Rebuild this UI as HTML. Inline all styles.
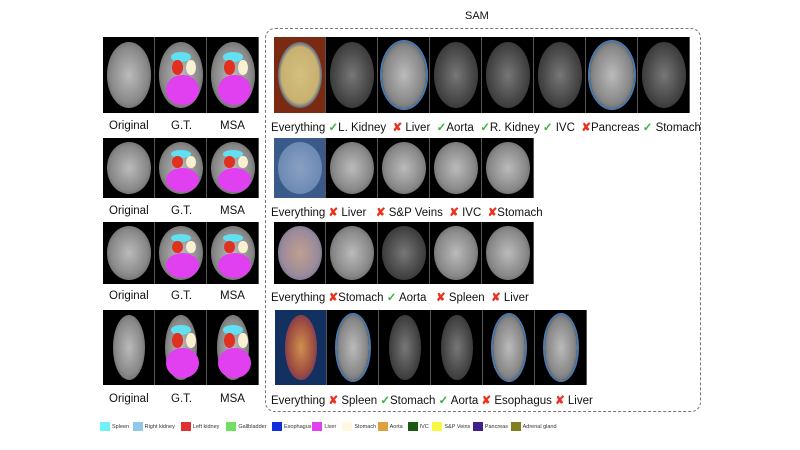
<!DOCTYPE html>
<html><head><meta charset="utf-8">
<style>
body{margin:0;width:800px;height:450px;background:#fff;position:relative;overflow:hidden;font-family:"Liberation Sans",sans-serif;}
.t{position:absolute;background:#000;overflow:hidden;border-right:1px solid #555;box-sizing:border-box}
.e{position:absolute;border-radius:50%}
.lb{position:absolute;font-size:11.5px;color:#111;white-space:nowrap}
.ok{color:#3cb043;font-weight:bold}
.no{color:#e8321e;font-weight:bold}
.lg{position:absolute;top:422px;font-size:5.5px;color:#333;display:flex;align-items:center;white-space:nowrap}
.lg i{display:inline-block;width:10px;height:9px;margin-right:2px}
</style></head><body>
<div id="box" style="position:absolute;left:265px;top:28px;width:436px;height:384px;border:1.5px dashed #777;border-radius:10px;box-sizing:border-box"></div>
<div class="lb" style="left:465px;top:10px;font-size:11px">SAM</div>
<div id="root"></div>
<script>
const root=document.getElementById('root');
function tile(x,y,w,h,kind,shape){
  const d=document.createElement('div');d.className='t';
  
  
  d.style.cssText+=`left:${x}px;top:${y}px;width:${w}px;height:${h}px`;
  const bg=kind==='every1'?'#7a2a10':kind==='every2'?'#3a5a8a':kind==='every4'?'#123060':'#000';
  d.style.background=bg;
  const e=document.createElement('div');e.className='e';
  const ew=shape==='side'?w*0.62:w*0.85, eh=h*0.86;
  e.style.cssText=`left:${(w-ew)/2}px;top:${(h-eh)/2}px;width:${ew}px;height:${eh}px;background:radial-gradient(#bbb,#888 60%,#444);`;
  if(kind==='dim')e.style.background='radial-gradient(#777,#444 60%,#222)';
  if(kind==='every1')e.style.background='radial-gradient(#d4c080,#c8b070 60%,#2a4a90 75%)';
  if(kind==='every2')e.style.background='radial-gradient(#8aa0c0,#6080b0)';
  if(kind==='every3')e.style.background='radial-gradient(#c0a090,#9a8a9a 60%,#3a5a8a)';
  if(kind==='every4')e.style.background='radial-gradient(#d09050,#a05040 55%,#502070)';
  if(kind==='outline')e.style.boxShadow='0 0 0 2px #4a7ab0';
  d.appendChild(e);
  if(kind==='gt'){
    const add=(l,t,ww,hh,c)=>{const b=document.createElement('div');b.className='e';b.style.cssText=`left:${l*w}px;top:${t*h}px;width:${ww*w}px;height:${hh*h}px;background:${c}`;d.appendChild(b);};
    add(.22,.5,.62,.4,'#e040f0');add(.3,.2,.4,.13,'#60e0f0');add(.33,.3,.2,.2,'#e03020');add(.6,.3,.18,.2,'#f8f0d0');
  }
  root.appendChild(d);
}
function label(x,y,html,name){
  const l=document.createElement('div');l.className='lb';l.innerHTML=html;
  l.style.left=x+'px';l.style.top=y+'px';
  
  
  root.appendChild(l);
}
const rows=[{y:37,h:76,ly:120,sh:'ax'},{y:138,h:60,ly:205,sh:'ax'},{y:222,h:62,ly:290,sh:'ax'},{y:310,h:75,ly:393,sh:'side'}];
rows.forEach((r,i)=>{
  tile(103,r.y,52,r.h,'',r.sh);tile(155,r.y,52,r.h,'gt',r.sh);tile(207,r.y,52,r.h,'gt',r.sh);
  label(109,r.ly,'Original','label-original');label(171,r.ly,'G.T.','label-gt');label(220,r.ly,'MSA','label-msa');
});
const sam=[
 {x0:274,n:8,kinds:['every1','dim','outline','dim','dim','dim','outline','dim']},
 {x0:274,n:5,kinds:['every2','','','','']},
 {x0:274,n:5,kinds:['every3','','dim','','']},
 {x0:275,n:6,kinds:['every4','outline','dim','dim','outline','outline']}];
sam.forEach((s,i)=>{for(let k=0;k<s.n;k++)tile(s.x0+k*52,rows[i].y,52,rows[i].h,s.kinds[k],rows[i].sh);});
const C='<span class="ok">✓</span>',X='<span class="no">✘</span>';
label(271,120,`Everything ${C}L. Kidney &nbsp;${X} Liver &nbsp;${C}Aorta &nbsp;${C}R. Kidney ${C} IVC &nbsp;${X}Pancreas ${C} Stomach`,'sam-row1-labels');
label(271,205,`Everything ${X} Liver &nbsp;&nbsp;${X} S&amp;P Veins &nbsp;${X} IVC &nbsp;${X}Stomach`,'sam-row2-labels');
label(271,290,`Everything ${X}Stomach ${C} Aorta &nbsp;&nbsp;${X} Spleen &nbsp;${X} Liver`,'sam-row3-labels');
label(271,393,`Everything ${X} Spleen ${C}Stomach ${C} Aorta ${X} Esophagus ${X} Liver`,'sam-row4-labels');
const legNames=['Spleen','Right kidney','Left kidney','Gallbladder','Esophagus','Liver','Stomach','Aorta','IVC','S&P Veins','Pancreas','Adrenal gland'];
const legColors=['#70f0f8','#90c8e8','#e03030','#70e060','#1030e0','#e040f0','#fff8e0','#e0a040','#1a5a10','#f8f840','#40208a','#808020'];
let lx=100;
legNames.forEach((n,i)=>{
  const g=document.createElement('div');g.className='lg';
  
  
  g.style.left=lx+'px';
  g.innerHTML=`<i style="background:${legColors[i]}"></i>${n}`;
  root.appendChild(g);
  lx+=13+n.length*2.6+4;
});
</script>
</body></html>
